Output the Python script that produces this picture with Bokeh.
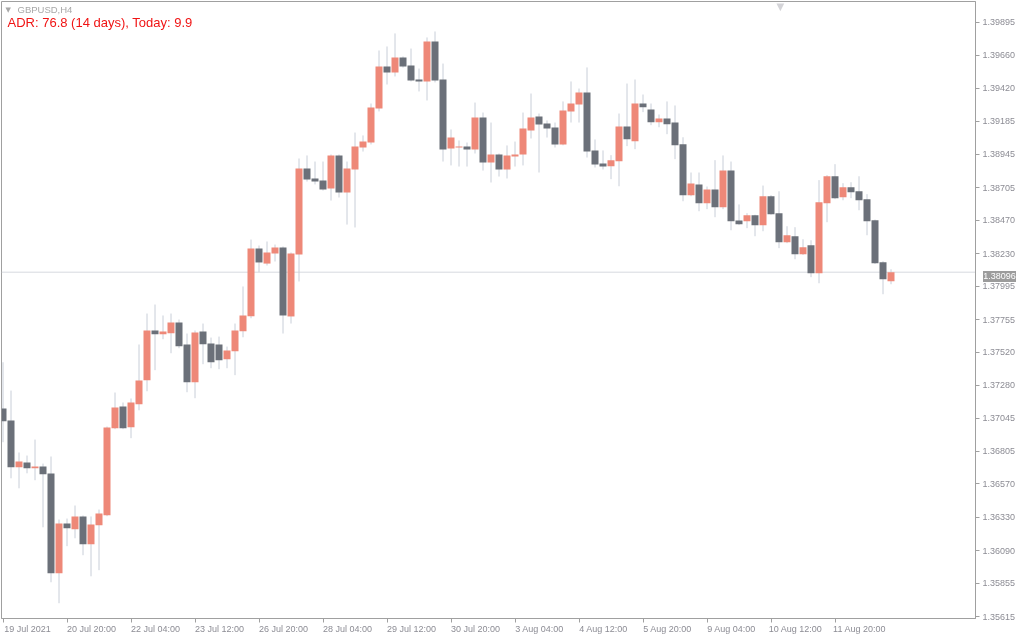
from bokeh.plotting import figure
from bokeh.models import (Range1d, FixedTicker, LinearAxis, Span, Label, Div,
                          ColumnDataSource, PrintfTickFormatter)
from bokeh.embed import file_html
from bokeh.resources import INLINE

# ---------------- data (GBPUSD, H4) ----------------
opens = [1.37114, 1.37027, 1.36691, 1.36725, 1.36683, 1.36696, 1.36645, 1.35927, 1.36285, 1.36244,
         1.36336, 1.36136, 1.36273, 1.36345, 1.36972, 1.37128, 1.36979, 1.37145, 1.37318, 1.37676,
         1.37649, 1.37656, 1.37733, 1.37575, 1.37303, 1.37668, 1.37582, 1.37575, 1.37469, 1.37527,
         1.37671, 1.37779, 1.38266, 1.38158, 1.38230, 1.38274, 1.37777, 1.38223, 1.38843, 1.38771,
         1.38756, 1.38699, 1.38937, 1.38670, 1.38836, 1.38994, 1.39030, 1.39275, 1.39578, 1.39535,
         1.39643, 1.39585, 1.39484, 1.39470, 1.39758, 1.39484, 1.38987, 1.38994, 1.39001, 1.38980,
         1.39210, 1.38886, 1.38944, 1.38836, 1.38929, 1.38944, 1.39117, 1.39218, 1.39167, 1.39138,
         1.39016, 1.39254, 1.39304, 1.39390, 1.38973, 1.38879, 1.38859, 1.38895, 1.39146, 1.39040,
         1.39311, 1.39268, 1.39176, 1.39203, 1.39174, 1.39018, 1.38651, 1.38728, 1.38593, 1.38692,
         1.38564, 1.38828, 1.38468, 1.38463, 1.38506, 1.38434, 1.38643, 1.38521, 1.38312, 1.38355,
         1.38225, 1.38290, 1.38089, 1.38593, 1.38787, 1.38636, 1.38708, 1.38679, 1.38622, 1.38470,
         1.38168, 1.38031]
highs = [1.37447, 1.37243, 1.36797, 1.36775, 1.36890, 1.36717, 1.36768, 1.36314, 1.36321, 1.36415,
         1.36343, 1.36336, 1.36386, 1.36984, 1.37229, 1.37157, 1.37186, 1.37575, 1.37798, 1.37863,
         1.37784, 1.37798, 1.37755, 1.37654, 1.37676, 1.37726, 1.37625, 1.37632, 1.37560, 1.37726,
         1.37993, 1.38331, 1.38288, 1.38317, 1.38295, 1.38281, 1.38238, 1.38915, 1.38937, 1.38893,
         1.38893, 1.38944, 1.38944, 1.38893, 1.39102, 1.39081, 1.39311, 1.39693, 1.39722, 1.39816,
         1.39650, 1.39707, 1.39563, 1.39787, 1.39830, 1.39599, 1.39124, 1.39045, 1.39030, 1.39318,
         1.39246, 1.39174, 1.38951, 1.39009, 1.39037, 1.39246, 1.39383, 1.39239, 1.39189, 1.39174,
         1.39326, 1.39470, 1.39419, 1.39571, 1.39052, 1.38973, 1.38939, 1.39239, 1.39455, 1.39484,
         1.39376, 1.39311, 1.39232, 1.39326, 1.39297, 1.39068, 1.38814, 1.38814, 1.38713, 1.38903,
         1.38937, 1.38893, 1.38584, 1.38521, 1.38510, 1.38720, 1.38651, 1.38679, 1.38427, 1.38420,
         1.38333, 1.38326, 1.38759, 1.38795, 1.38874, 1.38737, 1.38744, 1.38787, 1.38658, 1.38475,
         1.38175, 1.38117]
lows = [1.36871, 1.36611, 1.36539, 1.36647, 1.36597, 1.36258, 1.35862, 1.35711, 1.36122, 1.36179,
        1.36057, 1.35905, 1.35949, 1.36338, 1.36965, 1.36965, 1.36900, 1.37101, 1.37238, 1.37390,
        1.37613, 1.37512, 1.37548, 1.37231, 1.37188, 1.37433, 1.37404, 1.37397, 1.37404, 1.37354,
        1.37627, 1.37764, 1.38096, 1.38144, 1.38173, 1.37654, 1.37726, 1.38029, 1.38749, 1.38728,
        1.38684, 1.38612, 1.38634, 1.38439, 1.38418, 1.38965, 1.39016, 1.39254, 1.39448, 1.39506,
        1.39570, 1.39470, 1.39398, 1.39333, 1.39463, 1.38893, 1.38865, 1.38857, 1.38857, 1.38951,
        1.38828, 1.38742, 1.38785, 1.38771, 1.38857, 1.38865, 1.39059, 1.38814, 1.39066, 1.38994,
        1.39010, 1.39174, 1.39174, 1.38922, 1.38850, 1.38836, 1.38766, 1.38715, 1.39004, 1.38982,
        1.39249, 1.39155, 1.39140, 1.39090, 1.38910, 1.38607, 1.38643, 1.38535, 1.38550, 1.38492,
        1.38550, 1.38398, 1.38435, 1.38413, 1.38355, 1.38391, 1.38510, 1.38269, 1.38305, 1.38189,
        1.38220, 1.38060, 1.38016, 1.38456, 1.38622, 1.38614, 1.38629, 1.38542, 1.38362, 1.38155,
        1.37937, 1.38009]
closes = [1.37022, 1.36691, 1.36732, 1.36683, 1.36696, 1.36640, 1.35927, 1.36285, 1.36251, 1.36336,
          1.36136, 1.36278, 1.36357, 1.36977, 1.37121, 1.36972, 1.37157, 1.37315, 1.37676, 1.37649,
          1.37668, 1.37733, 1.37563, 1.37303, 1.37661, 1.37577, 1.37447, 1.37462, 1.37532, 1.37676,
          1.37784, 1.38266, 1.38166, 1.38238, 1.38274, 1.37784, 1.38230, 1.38843, 1.38764, 1.38749,
          1.38692, 1.38937, 1.38670, 1.38843, 1.39001, 1.39037, 1.39282, 1.39578, 1.39535, 1.39643,
          1.39578, 1.39477, 1.39470, 1.39758, 1.39477, 1.38980, 1.39066, 1.39001, 1.38980, 1.39210,
          1.38886, 1.38944, 1.38836, 1.38937, 1.38944, 1.39131, 1.39210, 1.39160, 1.39131, 1.39016,
          1.39261, 1.39311, 1.39390, 1.38965, 1.38872, 1.38857, 1.38903, 1.39146, 1.39054, 1.39311,
          1.39285, 1.39176, 1.39203, 1.39162, 1.39011, 1.38651, 1.38735, 1.38593, 1.38692, 1.38564,
          1.38828, 1.38463, 1.38442, 1.38506, 1.38434, 1.38643, 1.38514, 1.38312, 1.38362, 1.38225,
          1.38276, 1.38089, 1.38600, 1.38787, 1.38629, 1.38708, 1.38672, 1.38614, 1.38463, 1.38161,
          1.38045, 1.38096]

price_ticks = [1.35615, 1.35855, 1.36090, 1.36330, 1.36570, 1.36805, 1.37045, 1.37280, 1.37520,
               1.37755, 1.37995, 1.38230, 1.38470, 1.38705, 1.38945, 1.39185, 1.39420, 1.39660,
               1.39895]
time_tick_bars = [0, 8, 16, 24, 32, 40, 48, 56, 64, 72, 80, 88, 96, 104]
time_tick_labels = ["19 Jul 2021", "20 Jul 20:00", "22 Jul 04:00", "23 Jul 12:00",
                    "26 Jul 20:00", "28 Jul 04:00", "29 Jul 12:00", "30 Jul 20:00",
                    "3 Aug 04:00", "4 Aug 12:00", "5 Aug 20:00", "9 Aug 04:00",
                    "10 Aug 12:00", "11 Aug 20:00"]
current_price = 1.38096
symbol_text = "GBPUSD,H4"
adr_text = "ADR: 76.8 (14 days), Today: 9.9"

# ---------------- styling ----------------
UP = "#ee8878"
DOWN = "#6b7079"
WICK = "#c8ced8"
AXIS = "#a0a0a0"
TXT = "#8c8c94"
FONT = "Liberation Sans"

W, H = 1024, 640
B_LEFT, B_TOP, B_RIGHT, B_BOTTOM = 1, 1, 49, 22

n = len(opens)
xs = list(range(n))
src = ColumnDataSource(dict(
    x=xs, high=highs, low=lows,
    top=[max(o, c) for o, c in zip(opens, closes)],
    bottom=[min(o, c) for o, c in zip(opens, closes)],
    color=[UP if c >= o else DOWN for o, c in zip(opens, closes)],
))

xr = Range1d(-0.1875, 121.5625)
yr = Range1d(1.35601, 1.40046)
p = figure(width=W, height=H, output_backend="svg", toolbar_location=None,
           x_range=xr, y_range=yr,
           x_axis_location=None, y_axis_location="right",
           min_border_left=B_LEFT, min_border_top=B_TOP, min_border_right=B_RIGHT,
           min_border_bottom=B_BOTTOM,
           background_fill_color="white", border_fill_color="white",
           outline_line_color=AXIS, outline_line_width=1)
p.styles = {"position": "fixed", "left": "0px", "top": "0px"}
p.grid.visible = False

p.add_layout(Span(location=current_price, dimension="width", line_color="#d6d9df",
                  line_width=1, level="underlay"))

p.segment(x0="x", y0="low", x1="x", y1="high", source=src, line_color=WICK, line_width=1)
p.vbar(x="x", width=0.875, top="top", bottom="bottom", source=src,
       fill_color="color", line_color=None)

# right price axis
ya = p.yaxis[0]
ya.ticker = FixedTicker(ticks=price_ticks)
ya.formatter = PrintfTickFormatter(format="%.5f")
ya.axis_line_color = AXIS
ya.major_tick_line_color = AXIS
ya.major_tick_out = 4
ya.major_tick_in = 0
ya.minor_tick_line_color = None
ya.major_label_standoff = 3
ya.major_label_text_font = FONT
ya.major_label_text_font_size = "9px"
ya.major_label_text_color = TXT

# bottom time axis: ticks
xt = LinearAxis(ticker=FixedTicker(ticks=time_tick_bars), axis_line_color=AXIS,
                major_tick_line_color=AXIS, major_tick_out=4, major_tick_in=0,
                minor_tick_line_color=None, major_label_standoff=0,
                major_label_text_font_size="0px",
                major_label_overrides={t: "" for t in time_tick_bars})
p.add_layout(xt, "below")
# bottom time axis: labels (text starts at each tick)
shift = 3.0625
xl = LinearAxis(ticker=FixedTicker(ticks=[t + shift for t in time_tick_bars]),
                axis_line_color=None, major_tick_line_color=None, minor_tick_line_color=None,
                major_tick_out=0, major_tick_in=0, major_label_standoff=1,
                major_label_text_font=FONT, major_label_text_font_size="9px",
                major_label_text_color=TXT,
                major_label_overrides={t + shift: lab for t, lab in zip(time_tick_bars, time_tick_labels)})
p.add_layout(xl, "below")

# header texts
p.add_layout(Label(x=4, y=609, x_units="screen", y_units="screen", text="\u25bc",
                   text_color="#a8a8a8", text_font="DejaVu Sans", text_font_size="7px",
                   text_baseline="middle"))
p.add_layout(Label(x=16, y=609, x_units="screen", y_units="screen", text=symbol_text,
                   text_color="#a8a8a8", text_font=FONT, text_font_size="9.5px",
                   text_baseline="middle"))
p.add_layout(Label(x=6, y=596, x_units="screen", y_units="screen", text=adr_text,
                   text_color="#f01414", text_font=FONT, text_font_size="13px",
                   text_baseline="middle"))
# chart-shift marker at the top edge
p.add_layout(Label(x=775, y=H - B_TOP - B_BOTTOM + 1, x_units="screen", y_units="screen",
                   text="\u25bc", text_color="#d4d4d8", text_font="DejaVu Sans",
                   text_font_size="10px", text_baseline="top", text_align="left"))

# current price tag on the price axis (overlay; placed with the same linear price scale)
frame_h = H - B_TOP - B_BOTTOM
tag_cy = B_TOP + (yr.end - current_price) / (yr.end - yr.start) * frame_h
tag_h = 11
tag = Div(text=f"{current_price:.5f}", width=33, height=tag_h,
          styles={"position": "fixed", "left": f"{W - B_RIGHT + 3}px",
                  "top": f"{tag_cy - tag_h / 2:.1f}px",
                  "background-color": "#9c9c9c", "color": "white",
                  "font-family": FONT, "font-size": "9px", "line-height": f"{tag_h}px",
                  "text-align": "center", "overflow": "hidden"})

open("out.html", "w").write(file_html([p, tag], INLINE))
